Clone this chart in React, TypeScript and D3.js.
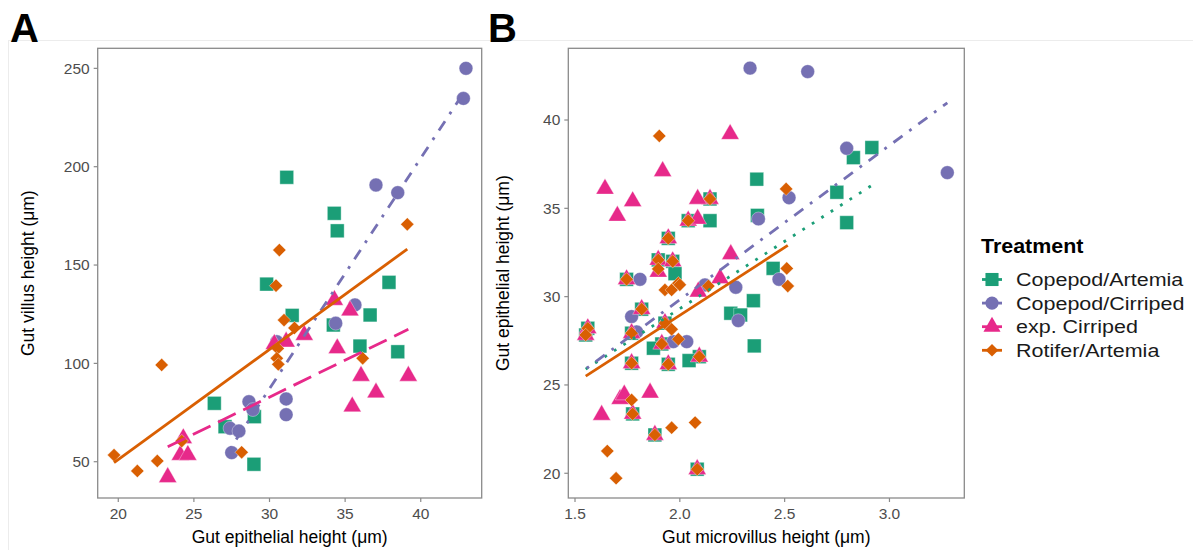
import React from 'react'
import * as d3 from 'd3'

// Treatments, in legend / drawing order
const TREATMENTS = ['Copepod/Artemia', 'Copepod/Cirriped', 'exp. Cirriped', 'Rotifer/Artemia']
const COLORS = ['#1B9E77', '#7570B3', '#E7298A', '#D95F02']
const SHAPES = ['square', 'circle', 'triangle', 'diamond']
const DASHES = ['2.8 8.4', '2.8 8.4 11.2 8.4', '19.6 8.4', null]

// ---- Panel A: epithelial height (x) vs villus height (y)
const A_COPEPOD_ARTEMIA = [
  [31.14, 194.6], [34.28, 176.3], [34.48, 167.4], [29.81, 140.3], [31.5, 124.4],
  [26.35, 79.7], [27.06, 67.8], [29.0, 72.9], [28.97, 48.7], [37.9, 141.2],
  [36.65, 124.6], [34.22, 119.5], [35.98, 108.8], [38.48, 105.9],
]
const A_COPEPOD_CIRRIPED = [
  [42.99, 250], [42.82, 234.7], [37.04, 190.7], [38.48, 186.8], [35.65, 129.7],
  [34.38, 120.4], [31.1, 81.9], [31.1, 73.9], [30.48, 111], [28.64, 80.5],
  [28.9, 76.5], [27.39, 67], [27.98, 65.6], [27.5, 54.6],
]
const A_EXP_CIRRIPED = [
  [30.32, 109.8], [31.1, 111], [24.3, 61.9], [24.1, 53.4], [24.6, 53.4],
  [23.27, 42.1], [34.29, 132.2], [35.32, 126.8], [32.3, 114.4], [34.48, 107.6],
  [36.05, 93.6], [39.18, 93.6], [37.04, 85.1], [35.47, 78.0],
]
const A_ROTIFER_ARTEMIA = [
  [30.65, 157.6], [39.11, 170.7], [30.43, 139.5], [30.96, 122.0], [31.65, 118],
  [30.54, 107.6], [30.48, 102.6], [30.58, 99.5], [22.87, 99.2], [19.72, 53.4],
  [21.26, 45.3], [22.58, 50.4], [24.2, 60.5], [28.16, 54.8], [36.16, 102.6],
]
// fitted lines: [treatment index, x0, y0, x1, y1]
const A_FITS = [
  [1, 27.39, 56.5, 42.99, 239.4],
  [2, 23.27, 57.6, 39.18, 117.3],
  [3, 19.72, 49.5, 39.11, 158.1],
]

// ---- Panel B: microvillus height (x) vs epithelial height (y)
// fish shared by three treatments (stacked markers)
const B_SHARED = [
  [2.144, 35.53], [2.04, 34.3], [1.945, 33.3], [1.897, 32.08], [1.966, 32.0],
  [1.746, 30.98], [1.818, 29.29], [1.561, 28.21], [1.551, 27.83], [1.77, 27.93],
  [1.929, 28.5], [1.914, 27.32], [1.77, 26.23], [1.945, 26.17], [2.093, 26.6],
  [1.775, 23.36], [1.881, 22.17], [2.083, 20.23],
]
const B_COPEPOD_ARTEMIA = [
  ...B_SHARED,
  [2.144, 34.3], [2.367, 36.65], [2.37, 34.6], [1.977, 31.3], [2.351, 29.77],
  [2.243, 29.06], [2.29, 28.96], [2.355, 27.21], [1.874, 27.08], [2.044, 26.38],
  [2.916, 38.44], [2.828, 37.87], [2.749, 35.91], [2.796, 34.19], [2.445, 31.6],
]
const B_COPEPOD_CIRRIPED = [
  [2.335, 42.94], [2.61, 42.74], [2.796, 38.4], [3.276, 37.02], [2.521, 35.6],
  [2.375, 34.4], [2.473, 30.98], [1.81, 30.98], [2.12, 30.66], [2.267, 30.53],
  [2.279, 28.64], [1.77, 28.87], [1.794, 28.0], [1.969, 27.45], [2.033, 27.45],
]
const B_EXP_CIRRIPED = [
  ...B_SHARED,
  [2.24, 39.2], [1.918, 37.1], [1.643, 36.1], [1.775, 35.4], [1.702, 34.57],
  [2.085, 35.53], [2.085, 34.4], [2.243, 32.4], [1.897, 31.4], [2.088, 30.28],
  [2.192, 31.04], [1.715, 24.2], [1.735, 24.45], [1.858, 24.56], [1.627, 23.3],
]
const B_ROTIFER_ARTEMIA = [
  ...B_SHARED,
  [1.902, 39.1], [1.897, 31.57], [1.929, 30.38], [1.961, 30.38], [1.993, 30.76],
  [2.0, 30.67], [2.136, 30.6], [1.961, 28.15], [1.993, 27.59], [1.77, 24.15],
  [1.961, 22.58], [2.073, 22.87], [1.654, 21.26], [1.696, 19.72], [2.507, 36.1],
  [2.51, 31.6], [2.515, 30.6],
]
const B_FITS = [
  [0, 1.551, 25.9, 2.916, 36.3],
  [1, 1.556, 25.95, 3.276, 40.97],
  [3, 1.551, 25.5, 2.515, 32.9],
]

const A_XTICKS = [20, 25, 30, 35, 40]
const A_YTICKS = [50, 100, 150, 200, 250]
const B_XTICKS = [1.5, 2.0, 2.5, 3.0]
const B_YTICKS = [20, 25, 30, 35, 40]

const FONT = '"Liberation Sans", Arial, Helvetica, sans-serif'

const symbolPath = (shape: string, scale = 1) => {
  if (shape === 'square') return d3.symbol(d3.symbolSquare, 190 * scale * scale)()
  if (shape === 'circle') return d3.symbol(d3.symbolCircle, 150 * scale * scale)()
  if (shape === 'triangle') return d3.symbol(d3.symbolTriangle, 140 * scale * scale)()
  return d3.symbol(d3.symbolSquare, 88 * scale * scale)()
}

function Panel({ box, xDomain, yDomain, xTicks, yTicks, fmt, series, fits, xTitle, yTitle, letter, letterX, yTitleX }) {
  const x = d3.scaleLinear().domain(xDomain).range([box.left, box.right])
  const y = d3.scaleLinear().domain(yDomain).range([box.bottom, box.top])
  const axisColor = '#8a8a8a'
  return (
    <g>
      <text x={letterX} y={42} fontFamily={FONT} fontWeight="bold" fontSize={40} fill="#000">{letter}</text>
      <rect x={box.left} y={box.top} width={box.right - box.left} height={box.bottom - box.top}
        fill="#fff" stroke={axisColor} strokeWidth={1.3} />
      {series.map((pts, i) => (
        <g key={i}>
          {pts.map((p, j) => (
            <path key={j} d={symbolPath(SHAPES[i])}
              transform={`translate(${x(p[0])},${y(p[1])})${SHAPES[i] === 'diamond' ? ' rotate(45)' : ''}`}
              fill={COLORS[i]} stroke="#fff" strokeOpacity={0.6} strokeWidth={0.6} />
          ))}
        </g>
      ))}
      {fits.map((f, k) => (
        <line key={k} x1={x(f[1])} y1={y(f[2])} x2={x(f[3])} y2={y(f[4])}
          stroke={COLORS[f[0]]} strokeWidth={2.8} strokeDasharray={DASHES[f[0]] || undefined} />
      ))}
      {xTicks.map(t => (
        <g key={t}>
          <line x1={x(t)} x2={x(t)} y1={box.bottom} y2={box.bottom + 4} stroke={axisColor} strokeWidth={1.2} />
          <text x={x(t)} y={box.bottom + 21} textAnchor="middle" fontFamily={FONT} fontSize={15.5} fill="#4d4d4d">{fmt(t)}</text>
        </g>
      ))}
      {yTicks.map(t => (
        <g key={t}>
          <line x1={box.left - 4} x2={box.left} y1={y(t)} y2={y(t)} stroke={axisColor} strokeWidth={1.2} />
          <text x={box.left - 8} y={y(t)} dy="0.35em" textAnchor="end" fontFamily={FONT} fontSize={15.5} fill="#4d4d4d">{fmt(t)}</text>
        </g>
      ))}
      <text x={(box.left + box.right) / 2} y={box.bottom + 45} textAnchor="middle" fontFamily={FONT} fontSize={17.5} fill="#000">{xTitle}</text>
      <text transform={`translate(${yTitleX},${(box.top + box.bottom) / 2}) rotate(-90)`} textAnchor="middle"
        fontFamily={FONT} fontSize={17.5} fill="#000">{yTitle}</text>
    </g>
  )
}

export default function App() {
  const boxA = { left: 97.7, right: 481.7, top: 48.3, bottom: 498 }
  const boxB = { left: 568.3, right: 964.3, top: 48.3, bottom: 498 }
  const fmtA = (t: number) => String(t)
  const fmtB = (t: number) => (t < 10 ? t.toFixed(1) : String(t))
  return (
    <svg width={1193} height={550} style={{ position: 'absolute', left: 0, top: 0, background: '#fff' }}>
      <rect width={1193} height={550} fill="#fff" />
      <line x1={8} x2={1193} y1={40.5} y2={40.5} stroke="#ececec" strokeWidth={1} />
      <line x1={8.5} x2={8.5} y1={40} y2={550} stroke="#ececec" strokeWidth={1} />
      <Panel box={boxA} xDomain={[18.64, 44.03]} yDomain={[31.55, 260.2]}
        xTicks={A_XTICKS} yTicks={A_YTICKS} fmt={fmtA}
        series={[A_COPEPOD_ARTEMIA, A_COPEPOD_CIRRIPED, A_EXP_CIRRIPED, A_ROTIFER_ARTEMIA]}
        fits={A_FITS} xTitle="Gut epithelial height (μm)" yTitle="Gut villus height (μm)"
        letter="A" letterX={10} yTitleX={34} />
      <Panel box={boxB} xDomain={[1.468, 3.357]} yDomain={[18.6, 44.06]}
        xTicks={B_XTICKS} yTicks={B_YTICKS} fmt={(t: number) => (B_YTICKS.includes(t) && t >= 10 ? fmtA(t) : fmtB(t))}
        series={[B_COPEPOD_ARTEMIA, B_COPEPOD_CIRRIPED, B_EXP_CIRRIPED, B_ROTIFER_ARTEMIA]}
        fits={B_FITS} xTitle="Gut microvillus height (μm)" yTitle="Gut epithelial height (μm)"
        letter="B" letterX={488} yTitleX={509} />
      <g fontFamily={FONT}>
        <text transform="translate(981,253) scale(1.1,1)" fontWeight="bold" fontSize={19.5} fill="#000">Treatment</text>
        {TREATMENTS.map((t, i) => {
          const cy = 279.5 + i * 23.6
          return (
            <g key={t}>
              <line x1={982} x2={1002} y1={cy} y2={cy} stroke={COLORS[i]} strokeWidth={2.8} />
              <path d={symbolPath(SHAPES[i], 0.95)}
                transform={`translate(992,${cy})${SHAPES[i] === 'diamond' ? ' rotate(45)' : ''}`}
                fill={COLORS[i]} />
              <text transform={`translate(1016,${cy}) scale(1.15,1)`} dy="0.36em" fontSize={18.7} fill="#1a1a1a">{t}</text>
            </g>
          )
        })}
      </g>
    </svg>
  )
}
